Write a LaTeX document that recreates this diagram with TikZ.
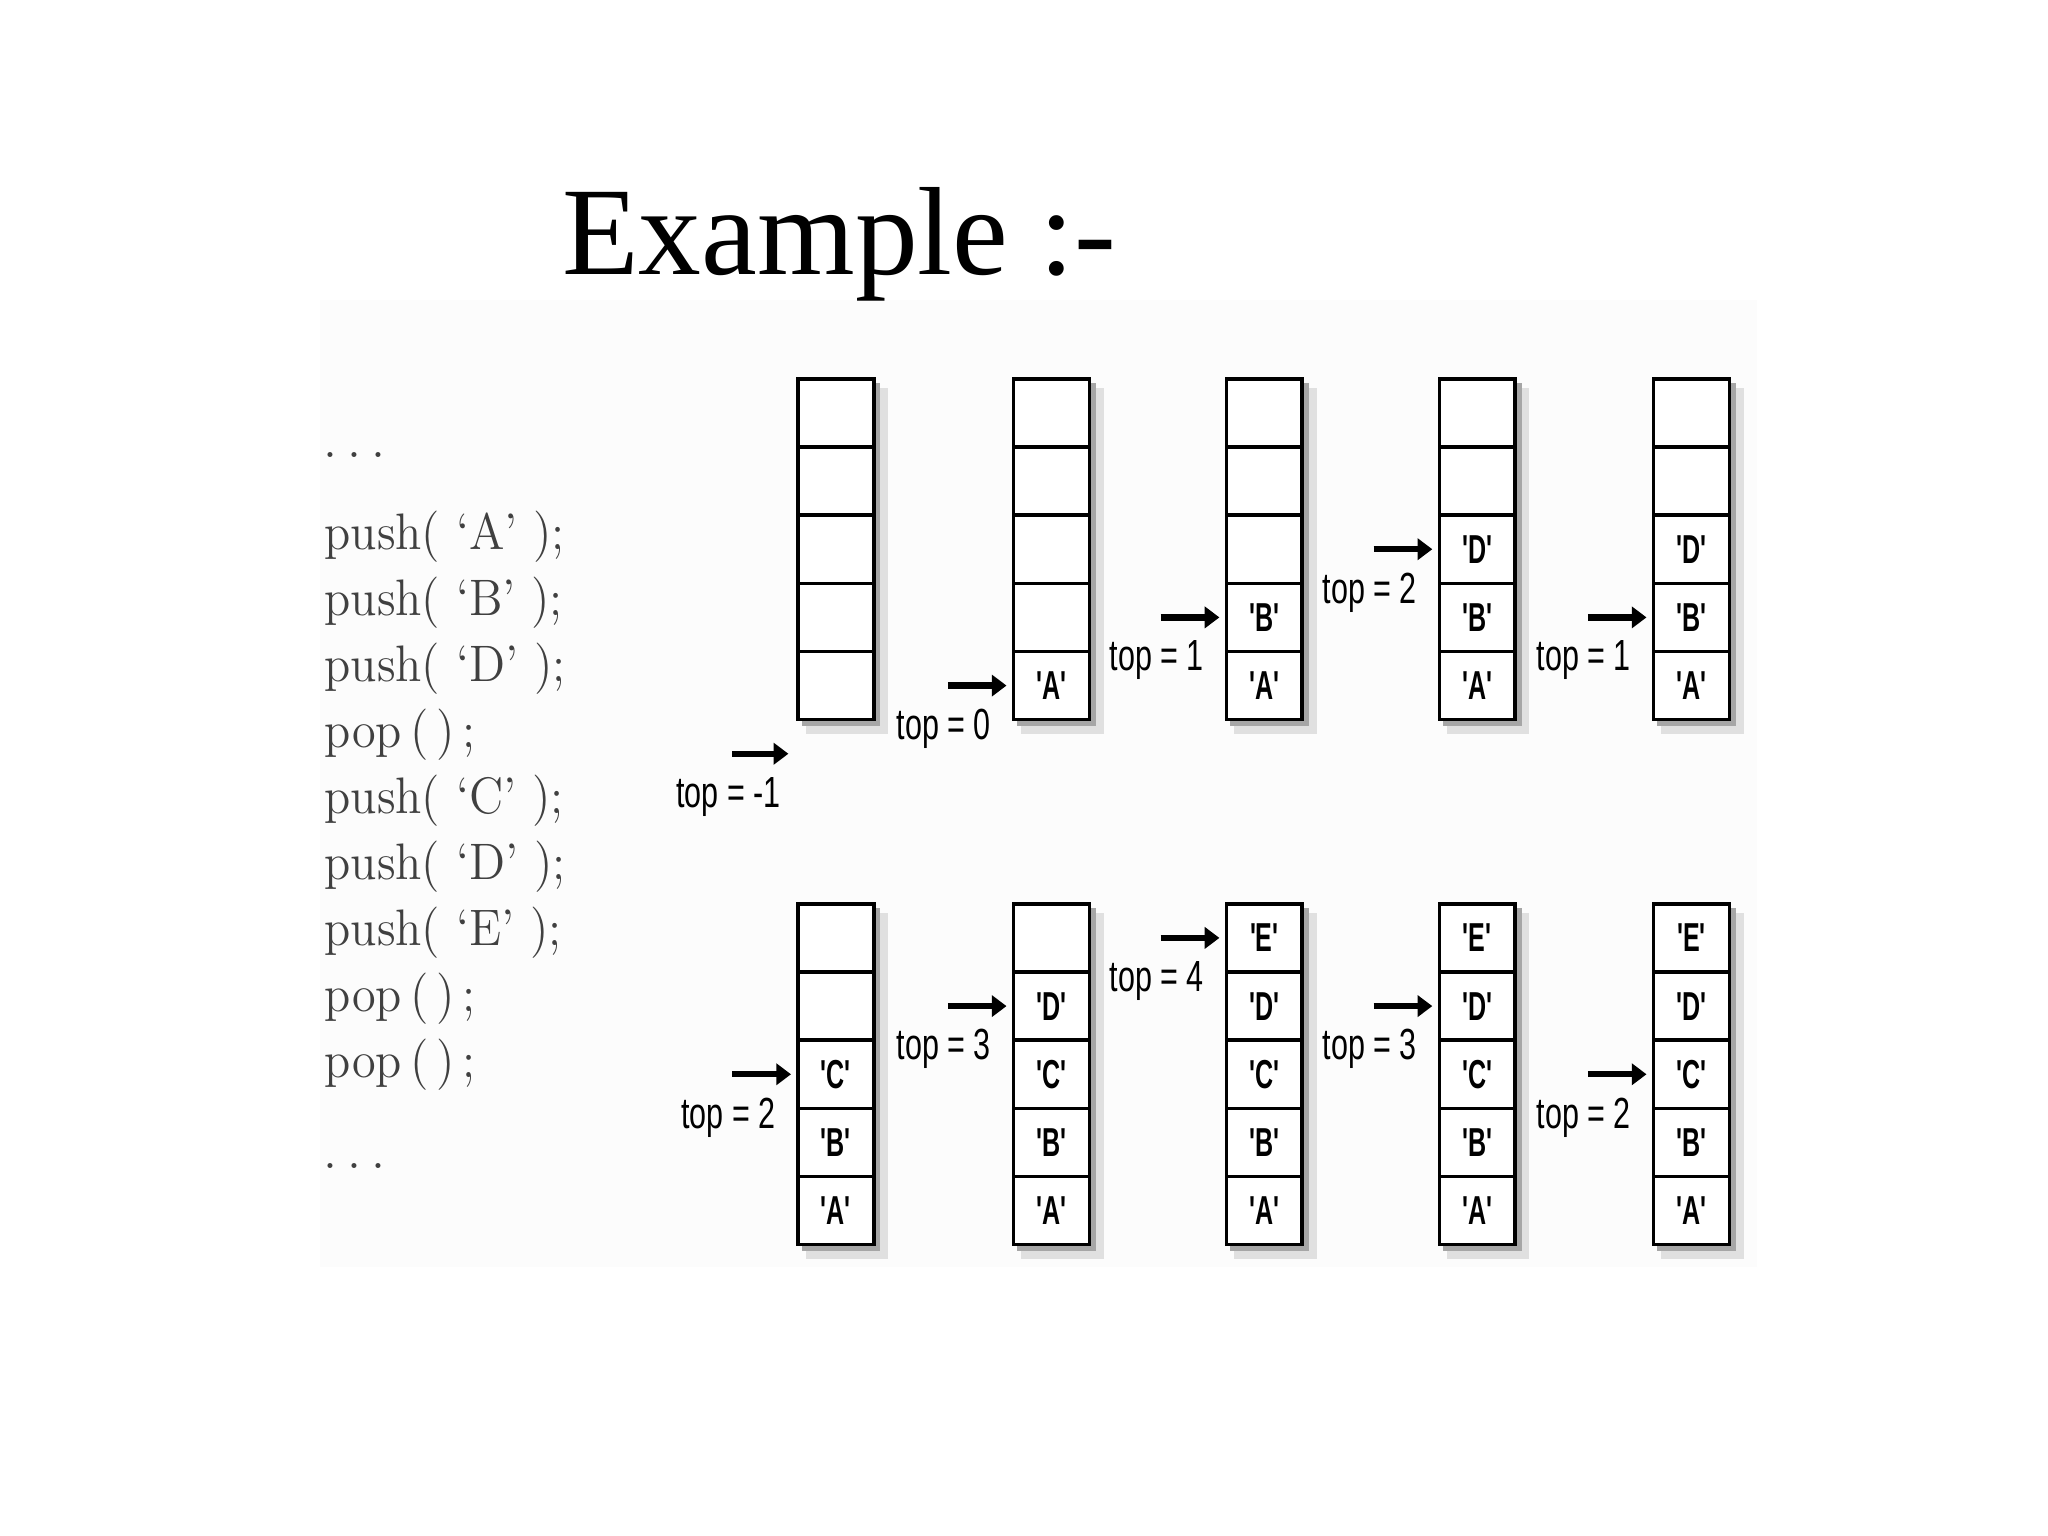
\documentclass[tikz,border=0pt]{standalone}
\usepackage{fontspec}
\usepackage{graphicx}
\usetikzlibrary{calc,arrows.meta}
\newfontfamily\titlefont{Liberation Serif}
\newfontfamily\labelfont{Liberation Sans}
\newcommand{\val}[1]{\scalebox{0.62}[1]{'#1'}}
\newcommand{\toptext}[1]{\scalebox{0.7}[1]{top = #1}}
% one stack of five cells: name, (left,top), cells from bottom to top
\def\stackcol#1(#2,#3)#4#5#6#7#8{%
  \fill[black!12] (#2+6,#3+7) rectangle (#2+69,#3+272);
  \fill[black!35] (#2+3,#3+3) rectangle (#2+63,#3+266);
  \node[cell] (#1c1) at (#2+29,#3+234.9) {#4};
  \node[cell] (#1c2) at (#2+29,#3+182.7) {#5};
  \node[cell] (#1c3) at (#2+29,#3+130.5) {#6};
  \node[cell] (#1c4) at (#2+29,#3+78.3) {#7};
  \node[cell] (#1c5) at (#2+29,#3+26.1) {#8};
}
\tikzset{
  cell/.style={draw, fill=white, line width=1pt, minimum width=21.55pt, minimum height=19.4pt, inner sep=0pt, font=\labelfont\bfseries\fontsize{11.5}{12}\selectfont},
  pointer/.style={line width=1.8pt, -{Triangle[length=4.2pt,width=6pt]}, shorten >=1.5pt},
  toplabel/.style={inner sep=0pt, font=\labelfont\fontsize{12.4}{14}\selectfont},
  code/.style={anchor=base west, inner sep=0pt, text=black!75, font=\fontsize{14.6}{16}\selectfont},
}
\begin{document}
\begin{tikzpicture}[x=0.013061cm, y=-0.013061cm]
		%%%%% START %%%%%
		\useasboundingbox (0,0) rectangle (1568,1176);
		\fill[black!1] (245,230) rectangle (1345,970);
		
		\node[anchor=base west, inner sep=0pt, font=\titlefont\fontsize{35.7}{40}\selectfont] (title) at (430,210) {Example :-};
		
		% the code on the left
		\node[code] (c0) at (247,350) {.\hspace{0.2em}.\hspace{0.2em}.};
		\node[code] (c1) at (248,421) {\scalebox{0.94}[1]{push( `A' );}};
		\node[code] (c2) at (248,471.5) {\scalebox{0.94}[1]{push( `B' );}};
		\node[code] (c3) at (248,522) {\scalebox{0.94}[1]{push( `D' );}};
		\node[code] (c4) at (248,572.5) {\scalebox{0.94}[1]{pop\,(\,)\,;}};
		\node[code] (c5) at (248,623) {\scalebox{0.94}[1]{push( `C' );}};
		\node[code] (c6) at (248,673.5) {\scalebox{0.94}[1]{push( `D' );}};
		\node[code] (c7) at (248,724) {\scalebox{0.94}[1]{push( `E' );}};
		\node[code] (c8) at (248,774.5) {\scalebox{0.94}[1]{pop\,(\,)\,;}};
		\node[code] (c9) at (248,825) {\scalebox{0.94}[1]{pop\,(\,)\,;}};
		\node[code] (c10) at (247,895) {.\hspace{0.2em}.\hspace{0.2em}.};
		
		% upper row
		\stackcol st1(611,290){}{}{}{}{}
		\stackcol st2(776,290){\val{A}}{}{}{}{}
		\stackcol st3(939,290){\val{A}}{\val{B}}{}{}{}
		\stackcol st4(1102,290){\val{A}}{\val{B}}{\val{D}}{}{}
		\stackcol st5(1266,290){\val{A}}{\val{B}}{\val{D}}{}{}
		
		\coordinate (t1) at ($(st1c1.west)+(-49,52.2)$);
		\coordinate (e1) at ($(st1c1.west)+(-2,52.2)$);
		\draw[pointer] (t1) -- (e1);
		\node[toplabel] (l1) at ($(t1)+(-3,33)$) {\toptext{-1}};
		
		\coordinate (t2) at ($(st2c1.west)+(-49,0)$);
		\draw[pointer] (t2) -- (st2c1);
		\node[toplabel] (l2) at ($(t2)+(-3,33)$) {\toptext{0}};
		
		\coordinate (t3) at ($(st3c2.west)+(-49,0)$);
		\draw[pointer] (t3) -- (st3c2);
		\node[toplabel] (l3) at ($(t3)+(-3,33)$) {\toptext{1}};
		
		\coordinate (t4) at ($(st4c3.west)+(-49,0)$);
		\draw[pointer] (t4) -- (st4c3);
		\node[toplabel] (l4) at ($(t4)+(-3,33)$) {\toptext{2}};
		
		\coordinate (t5) at ($(st5c2.west)+(-49,0)$);
		\draw[pointer] (t5) -- (st5c2);
		\node[toplabel] (l5) at ($(t5)+(-3,33)$) {\toptext{1}};
		
		% lower row
		\stackcol st6(611,692){\val{A}}{\val{B}}{\val{C}}{}{}
		\stackcol st7(776,692){\val{A}}{\val{B}}{\val{C}}{\val{D}}{}
		\stackcol st8(939,692){\val{A}}{\val{B}}{\val{C}}{\val{D}}{\val{E}}
		\stackcol st9(1102,692){\val{A}}{\val{B}}{\val{C}}{\val{D}}{\val{E}}
		\stackcol st10(1266,692){\val{A}}{\val{B}}{\val{C}}{\val{D}}{\val{E}}
		
		\coordinate (t6) at ($(st6c3.west)+(-49,0)$);
		\draw[pointer] (t6) -- (st6c3);
		\node[toplabel] (l6) at ($(t6)+(-3,33)$) {\toptext{2}};
		
		\coordinate (t7) at ($(st7c4.west)+(-49,0)$);
		\draw[pointer] (t7) -- (st7c4);
		\node[toplabel] (l7) at ($(t7)+(-3,33)$) {\toptext{3}};
		
		\coordinate (t8) at ($(st8c5.west)+(-49,0)$);
		\draw[pointer] (t8) -- (st8c5);
		\node[toplabel] (l8) at ($(t8)+(-3,33)$) {\toptext{4}};
		
		\coordinate (t9) at ($(st9c4.west)+(-49,0)$);
		\draw[pointer] (t9) -- (st9c4);
		\node[toplabel] (l9) at ($(t9)+(-3,33)$) {\toptext{3}};
		
		\coordinate (t10) at ($(st10c3.west)+(-49,0)$);
		\draw[pointer] (t10) -- (st10c3);
		\node[toplabel] (l10) at ($(t10)+(-3,33)$) {\toptext{2}};
		
		%%%%% END %%%%%
\end{tikzpicture}
\end{document}
